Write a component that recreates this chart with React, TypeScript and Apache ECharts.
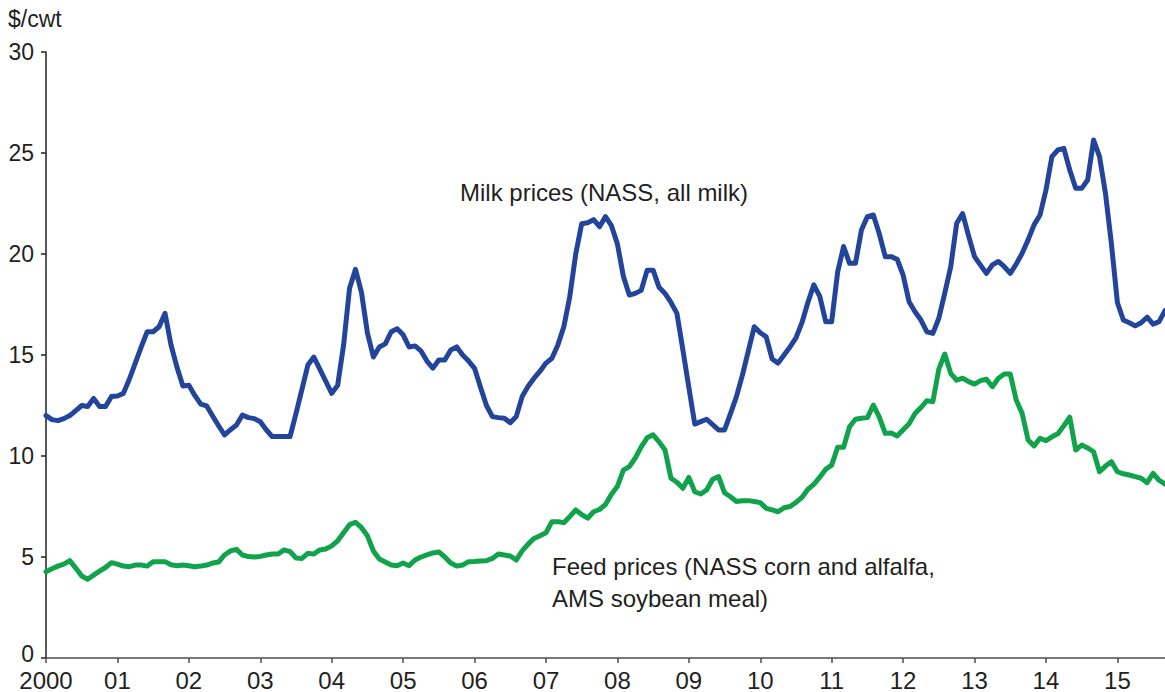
import React, { useEffect, useRef } from "react";
import * as echarts from "echarts";

const yearLabels = ["2000", "01", "02", "03", "04", "05", "06", "07", "08", "09", "10", "11", "12", "13", "14", "15"];
const monthsInLastYear = 9;

const milkPrices = [
  12.0, 11.8, 11.75, 11.85, 12.0, 12.25, 12.5, 12.45, 12.85, 12.45, 12.45, 12.95,
  12.97, 13.1, 13.8, 14.6, 15.4, 16.15, 16.15, 16.4, 17.06, 15.5, 14.4, 13.47,
  13.5, 13.0, 12.57, 12.48, 11.98, 11.5, 11.04, 11.3, 11.53, 12.03, 11.9, 11.85,
  11.7, 11.3, 10.96, 10.96, 10.96, 10.96, 12.1, 13.3, 14.5, 14.9, 14.3, 13.7,
  13.1, 13.5, 15.5, 18.3, 19.24, 18.1, 16.1, 14.9, 15.4, 15.55, 16.15, 16.3,
  16.0, 15.4, 15.45, 15.2, 14.7, 14.35, 14.75, 14.75, 15.25, 15.4, 15.0, 14.7,
  14.34, 13.4, 12.5, 11.95, 11.9, 11.87, 11.65, 11.95, 12.94, 13.45, 13.85, 14.2,
  14.6, 14.84, 15.5, 16.4, 17.9, 20.0, 21.5, 21.55, 21.7, 21.35, 21.85, 21.4,
  20.5, 18.9, 17.97, 18.05, 18.2, 19.2, 19.2, 18.35, 18.05, 17.6, 17.06, 15.25,
  13.4, 11.58, 11.7, 11.82, 11.55, 11.29, 11.29, 12.1, 12.94, 14.0, 15.2, 16.4,
  16.1, 15.9, 14.8, 14.6, 15.0, 15.4, 15.85, 16.6, 17.6, 18.47, 17.9, 16.65,
  16.65, 19.1, 20.37, 19.54, 19.54, 21.19, 21.85, 21.93, 21.0, 19.87, 19.87, 19.74,
  18.96, 17.64, 17.14, 16.73, 16.15, 16.07, 16.82, 18.06, 19.37, 21.52, 22.0, 20.9,
  19.87, 19.45, 19.04, 19.46, 19.63, 19.37, 19.04, 19.5, 20.04, 20.7, 21.44, 21.93,
  23.17, 24.82, 25.15, 25.23, 24.16, 23.25, 23.25, 23.66, 25.64, 24.82, 23.0, 20.5,
  17.6, 16.73, 16.6, 16.44, 16.6, 16.87, 16.53, 16.65, 17.2,
];

const feedPrices = [
  4.27, 4.42, 4.55, 4.65, 4.82, 4.45, 4.06, 3.9, 4.1, 4.3, 4.48, 4.72,
  4.65, 4.55, 4.52, 4.6, 4.6, 4.55, 4.77, 4.77, 4.77, 4.62, 4.57, 4.6,
  4.57, 4.52, 4.55, 4.6, 4.7, 4.75, 5.1, 5.3, 5.38, 5.1, 5.02, 5.0,
  5.03, 5.1, 5.15, 5.15, 5.35, 5.27, 4.95, 4.93, 5.18, 5.15, 5.35, 5.4,
  5.55, 5.8, 6.2, 6.6, 6.72, 6.45, 6.05, 5.3, 4.9, 4.75, 4.6, 4.57,
  4.7, 4.57, 4.85, 5.0, 5.1, 5.2, 5.25, 5.0, 4.7, 4.55, 4.6, 4.77,
  4.78, 4.8, 4.82, 4.93, 5.15, 5.1, 5.05, 4.85, 5.3, 5.64, 5.92, 6.05,
  6.2, 6.75, 6.75, 6.7, 7.0, 7.33, 7.1, 6.92, 7.24, 7.35, 7.6, 8.1,
  8.5, 9.3, 9.47, 9.9, 10.45, 10.9, 11.05, 10.7, 10.3, 8.9, 8.7, 8.4,
  8.94, 8.23, 8.12, 8.32, 8.85, 8.98, 8.18, 7.98, 7.75, 7.78, 7.79, 7.75,
  7.69, 7.41, 7.33, 7.24, 7.44, 7.5, 7.7, 7.95, 8.35, 8.6, 8.95, 9.34,
  9.55, 10.43, 10.43, 11.45, 11.82, 11.87, 11.9, 12.52, 11.92, 11.12, 11.14, 10.99,
  11.3, 11.6, 12.1, 12.4, 12.74, 12.69, 14.3, 15.05, 14.09, 13.75, 13.85, 13.68,
  13.56, 13.73, 13.8, 13.43, 13.85, 14.06, 14.06, 12.77, 12.11, 10.79, 10.5, 10.88,
  10.76, 10.95, 11.1, 11.5, 11.92, 10.3, 10.54, 10.4, 10.21, 9.22, 9.5, 9.72,
  9.22, 9.12, 9.06, 8.98, 8.9, 8.68, 9.14, 8.8, 8.61,
];

const milkLabel = "Milk prices (NASS, all milk)";
const feedLabelLines = ["Feed prices (NASS corn and alfalfa,", "AMS soybean meal)"];
const unitLabel = "$/cwt";

const months: string[] = [];
yearLabels.forEach((y, i) => {
  const n = i === yearLabels.length - 1 ? monthsInLastYear : 12;
  for (let m = 0; m < n; m++) months.push(m === 0 ? y : `${y}-${m + 1}`);
});

const FONT = '"Liberation Sans", Arial, Helvetica, sans-serif';
const TEXT = "#231f20";

export default function App() {
  const ref = useRef<HTMLDivElement>(null);
  useEffect(() => {
    if (!ref.current) return;
    const chart = echarts.init(ref.current, undefined, { renderer: "svg" });
    chart.setOption({
      animation: false,
      backgroundColor: "#ffffff",
      grid: { left: 46, right: 0, top: 52, bottom: 34, containLabel: false },
      xAxis: {
        type: "category",
        data: months,
        boundaryGap: false,
        axisLine: { lineStyle: { color: "#4d4d4f", width: 1.5 } },
        axisTick: {
          interval: (idx: number) => idx % 12 === 0,
          length: 5,
          lineStyle: { color: "#4d4d4f", width: 1.5 },
        },
        axisLabel: {
          interval: (idx: number) => idx % 12 === 0,
          formatter: (v: string) => (v.indexOf("-") >= 0 ? "" : v),
          color: TEXT,
          fontFamily: FONT,
          fontSize: 24,
          lineHeight: 24,
          margin: 10,
        },
        splitLine: { show: false },
      },
      yAxis: {
        type: "value",
        min: 0,
        max: 30,
        interval: 5,
        axisLine: { show: true, lineStyle: { color: "#231f20", width: 1.5 } },
        axisTick: { show: true, length: 5, lineStyle: { color: "#231f20", width: 1.5 } },
        axisLabel: {
          color: TEXT,
          fontFamily: FONT,
          fontSize: 23,
          lineHeight: 14,
          margin: 12,
          formatter: (v: number) => (v === 0 ? "{z|0}" : String(v)),
          rich: {
            z: { color: TEXT, fontFamily: FONT, fontSize: 23, lineHeight: 14, padding: [0, 0, 8, 0] },
          },
        },
        splitLine: { show: false },
      },
      series: [
        {
          name: "Milk",
          type: "line",
          data: milkPrices,
          showSymbol: false,
          lineStyle: { color: "#23449b", width: 5, join: "round", cap: "round" },
          itemStyle: { color: "#23449b" },
        },
        {
          name: "Feed",
          type: "line",
          data: feedPrices,
          showSymbol: false,
          lineStyle: { color: "#10a34b", width: 5, join: "round", cap: "round" },
          itemStyle: { color: "#10a34b" },
        },
      ],
      graphic: [
        {
          type: "text",
          x: 8,
          y: 19,
          style: { text: unitLabel, font: `23px ${FONT}`, fill: TEXT, textVerticalAlign: "middle" },
        },
        {
          type: "text",
          x: 460,
          y: 192,
          style: { text: milkLabel, font: `24px ${FONT}`, fill: TEXT, textVerticalAlign: "middle" },
        },
        {
          type: "text",
          x: 552,
          y: 566,
          style: { text: feedLabelLines[0], font: `24px ${FONT}`, fill: TEXT, textVerticalAlign: "middle" },
        },
        {
          type: "text",
          x: 552,
          y: 598,
          style: { text: feedLabelLines[1], font: `24px ${FONT}`, fill: TEXT, textVerticalAlign: "middle" },
        },
      ],
    });
    return () => chart.dispose();
  }, []);
  return (
    <div
      ref={ref}
      style={{ position: "fixed", left: 0, top: 0, width: 1165, height: 692, background: "#fff" }}
    />
  );
}
